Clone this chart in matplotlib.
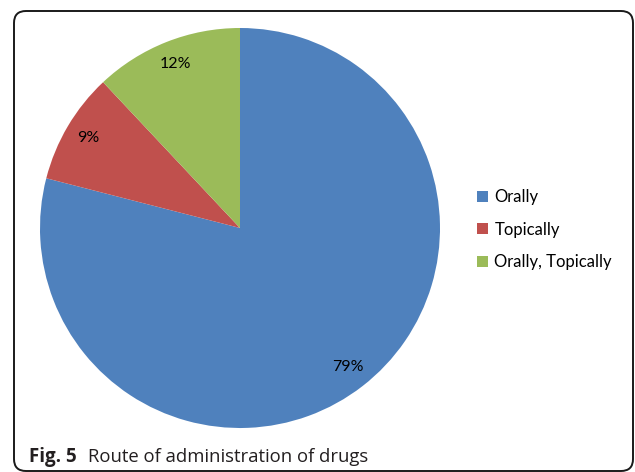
import matplotlib.pyplot as plt
from matplotlib.patches import FancyBboxPatch

routes = ['Orally', 'Topically', 'Orally, Topically']
shares = [79, 9, 12]
colors = ['#4F81BD', '#C0504D', '#9BBB59']

fig = plt.figure(figsize=(6.35, 4.72), dpi=100)

# background layer in pixel units for the rounded frame and caption
bg = fig.add_axes([0, 0, 1, 1])
bg.set_xlim(0, 635)
bg.set_ylim(472, 0)
bg.axis('off')
frame = FancyBboxPatch((14, 11), 619, 460, boxstyle='round,pad=0,rounding_size=12',
                       facecolor='none', edgecolor='#1a1a1a', linewidth=1.4)
bg.add_patch(frame)
bg.text(29, 462, 'Fig. 5', fontsize=13.5, fontweight='bold', family='Open Sans',
        color='#231f20', va='baseline')
bg.text(88, 462, 'Route of administration of drugs', fontsize=13.3, family='Open Sans',
        color='#231f20', va='baseline')

ax = fig.add_axes([40 / 635, 44 / 472, 400 / 635, 400 / 472])
wedges, texts, autotexts = ax.pie(shares, colors=colors, startangle=90, counterclock=False,
                                  autopct='%1.0f%%', pctdistance=0.88,
                                  textprops={'fontsize': 11.5, 'family': 'Lato', 'color': 'black'})
ax.set_xlim(-1, 1)
ax.set_ylim(-1, 1)
ax.set_aspect('equal')

leg = fig.legend(wedges, routes, loc='upper left', bbox_to_anchor=(462 / 635, 1 - 174 / 472),
                 frameon=False, prop={'family': 'Lato', 'size': 12},
                 handlelength=0.65, handleheight=0.65, handletextpad=0.4, labelspacing=1.0)

fig.savefig('out.png', dpi=100)
